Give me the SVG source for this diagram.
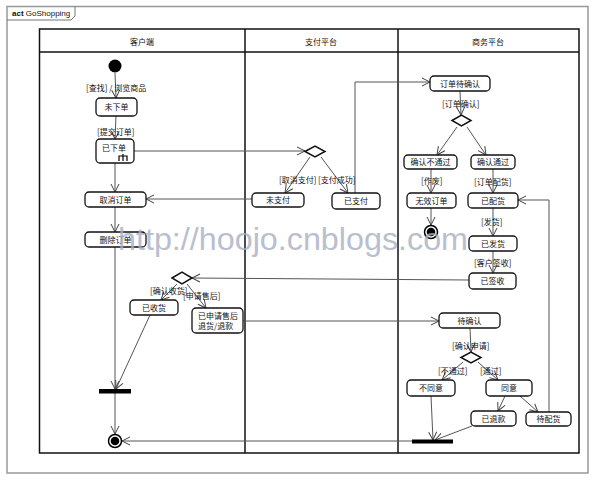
<svg xmlns="http://www.w3.org/2000/svg" width="595" height="480" viewBox="0 0 595 480">
<defs>
<marker id="arr" markerUnits="userSpaceOnUse" markerWidth="10" markerHeight="10" viewBox="0 0 10 10" refX="9" refY="5" orient="auto">
<path d="M1,1 L9,5 L1,9" fill="none" stroke="#444" stroke-width="1"/>
</marker>
<style>
text{font-family:"Noto Sans CJK SC","Liberation Sans",sans-serif;font-size:8px;fill:#111}
.c{text-anchor:middle}
.box{fill:#fff;stroke:#111;stroke-width:1.3}
.lane{fill:none;stroke:#111;stroke-width:1.5}
.e{fill:none;stroke:#555;stroke-width:1;marker-end:url(#arr)}
.dia{fill:#fff;stroke:#111;stroke-width:1.5}
.bar{fill:#000}
.wm{font-family:"Liberation Sans",sans-serif;font-size:32px;fill:#a8b0c4;opacity:0.8}
</style>
</defs>
<rect width="595" height="480" fill="#fff"/>
<!-- outer frame -->
<rect x="7" y="6.5" width="581" height="466.5" fill="none" stroke="#999" stroke-width="1.5"/>
<path d="M7,20 H71 L75,16 V6.5" fill="none" stroke="#777" stroke-width="1"/>
<text x="12" y="16" style="font-family:'Liberation Sans',sans-serif"><tspan font-weight="bold">act</tspan> GoShopping</text>
<!-- swimlanes -->
<g id="lanes">
<rect class="lane" x="39.5" y="29" width="539.5" height="424"/>
<line class="lane" x1="39.5" y1="52" x2="579" y2="52"/>
<line class="lane" x1="245" y1="29" x2="245" y2="453"/>
<line class="lane" x1="398" y1="29" x2="398" y2="453"/>
<text class="c" x="142" y="45">客户端</text>
<text class="c" x="321" y="45">支付平台</text>
<text class="c" x="488" y="45">商务平台</text>
</g>
<!-- connectors -->
<g id="connectors">
<line class="e" x1="115" y1="73" x2="116" y2="98"/>
<line class="e" x1="116" y1="116" x2="115" y2="139"/>
<line class="e" x1="134" y1="151" x2="305" y2="151"/>
<line class="e" x1="115" y1="163" x2="115" y2="192"/>
<line class="e" x1="115" y1="207" x2="115" y2="232"/>
<line class="e" x1="252" y1="199" x2="146" y2="199"/>
<line class="e" x1="310" y1="157" x2="285" y2="193"/>
<line class="e" x1="321" y1="157" x2="348" y2="193"/>
<polyline class="e" points="355,193 355,82 430,82"/>
<line class="e" x1="460" y1="91" x2="461" y2="115"/>
<line class="e" x1="457" y1="127" x2="437" y2="155"/>
<line class="e" x1="467" y1="127" x2="486" y2="155"/>
<line class="e" x1="431" y1="169" x2="431" y2="193"/>
<line class="e" x1="493" y1="169" x2="493" y2="193"/>
<line class="e" x1="431" y1="208" x2="431" y2="225"/>
<line class="e" x1="493" y1="208" x2="493" y2="236"/>
<line class="e" x1="493" y1="251" x2="493" y2="273"/>
<line class="e" x1="469" y1="280" x2="192" y2="278"/>
<line class="e" x1="177" y1="284" x2="161" y2="300"/>
<line class="e" x1="187" y1="284" x2="206" y2="308"/>
<line class="e" x1="115" y1="247" x2="115" y2="389"/>
<line class="e" x1="150" y1="315" x2="116" y2="389"/>
<line class="e" x1="115" y1="393" x2="115" y2="434"/>
<line class="e" x1="243" y1="321" x2="439" y2="321"/>
<line class="e" x1="470" y1="328" x2="471" y2="352"/>
<line class="e" x1="463" y1="362" x2="442" y2="380"/>
<line class="e" x1="478" y1="362" x2="498" y2="380"/>
<line class="e" x1="505" y1="396" x2="498" y2="411"/>
<line class="e" x1="520" y1="396" x2="538" y2="412"/>
<polyline class="e" points="549,412 549,200 518,200"/>
<line class="e" x1="431" y1="396" x2="433" y2="440"/>
<line class="e" x1="472" y1="426" x2="435" y2="440"/>
<line class="e" x1="412" y1="441" x2="122" y2="441"/>
</g>
<!-- guard labels -->
<g id="guards">
<text x="86" y="91">[查找] / 浏览商品</text>
<text x="97" y="135">[提交订单]</text>
<text x="279" y="183">[取消支付]</text>
<text x="318" y="183">[支付成功]</text>
<text x="442" y="107">[订单确认]</text>
<text x="421" y="184">[作废]</text>
<text x="474" y="185">[订单配货]</text>
<text x="481" y="225">[发货]</text>
<text x="474" y="266">[客户签收]</text>
<text x="150" y="294">[确认收货]</text>
<text x="183" y="299">[申请售后]</text>
<text x="452" y="349">[确认申请]</text>
<text x="438" y="374">[不通过]</text>
<text x="480" y="374">[通过]</text>
</g>
<!-- nodes -->
<g id="start"><circle cx="115" cy="66" r="6.5" fill="#000"/></g>
<g id="n_weixiadan"><rect class="box" x="96" y="98" width="41" height="18" rx="4"/><text class="c" x="116.5" y="110">未下单</text></g>
<g id="n_yixiadan"><rect class="box" x="96" y="139" width="38" height="24" rx="4" stroke-width="2"/><text class="c" x="114" y="151">已下单</text>
<path d="M119,161 V156 H127 V161 M123,154 V161" fill="none" stroke="#000" stroke-width="1.2"/></g>
<g id="n_quxiao"><rect class="box" x="85" y="192" width="61" height="15" rx="4"/><text class="c" x="115.5" y="202.5">取消订单</text></g>
<g id="n_shanchu"><rect class="box" x="85" y="232" width="61" height="15" rx="4"/><text class="c" x="115.5" y="242.5">删除订单</text></g>
<g id="d_pay"><polygon class="dia" points="305,151.5 315,146 325,151.5 315,157"/></g>
<g id="n_weizhifu"><rect class="box" x="252" y="193" width="52" height="14" rx="4"/><text class="c" x="278" y="203">未支付</text></g>
<g id="n_yizhifu"><rect class="box" x="332" y="193" width="48" height="16" rx="4"/><text class="c" x="356" y="204">已支付</text></g>
<g id="n_dingdandaiqueren"><rect class="box" x="430" y="76" width="60" height="15" rx="4"/><text class="c" x="460" y="86.5">订单待确认</text></g>
<g id="d_confirm"><polygon class="dia" points="452,120.5 461.5,115 471,120.5 461.5,126"/></g>
<g id="n_butongguo"><rect class="box" x="404" y="155" width="53" height="14" rx="4"/><text class="c" x="430.5" y="165">确认不通过</text></g>
<g id="n_tongguo"><rect class="box" x="471" y="155" width="44" height="14" rx="4"/><text class="c" x="493" y="165">确认通过</text></g>
<g id="n_wuxiao"><rect class="box" x="407" y="193" width="49" height="15" rx="4"/><text class="c" x="431.5" y="203.5">无效订单</text></g>
<g id="end1"><circle cx="431" cy="232" r="6.5" fill="#fff" stroke="#000" stroke-width="1.5"/><circle cx="431" cy="232" r="4.3" fill="#000"/></g>
<g id="n_yipeihuo"><rect class="box" x="468" y="193" width="50" height="15" rx="4"/><text class="c" x="493" y="203.5">已配货</text></g>
<g id="n_yifahuo"><rect class="box" x="469" y="236" width="48" height="15" rx="4"/><text class="c" x="493" y="246.5">已发货</text></g>
<g id="n_yiqianshou"><rect class="box" x="469" y="273" width="47" height="16" rx="4"/><text class="c" x="492.5" y="284">已签收</text></g>
<g id="d_receive"><polygon class="dia" points="172,278 182,272 192,278 182,284"/></g>
<g id="n_yishouhuo"><rect class="box" x="130" y="300" width="48" height="15" rx="4"/><text class="c" x="154" y="310.5">已收货</text></g>
<g id="n_shouhou"><rect class="box" x="192" y="308" width="51" height="25" rx="4"/><text x="198" y="318.5">已申请售后</text><text x="198" y="328.5">退货/退款</text></g>
<g id="fork1"><rect class="bar" x="99" y="389" width="32" height="4.5"/></g>
<g id="end2"><circle cx="115" cy="441" r="6.5" fill="#fff" stroke="#000" stroke-width="1.5"/><circle cx="115" cy="441" r="4.3" fill="#000"/></g>
<g id="n_daiqueren"><rect class="box" x="439" y="313" width="61" height="15" rx="4"/><text class="c" x="469.5" y="323.5">待确认</text></g>
<g id="d_apply"><polygon class="dia" points="461,357.5 471,352 481,357.5 471,363"/></g>
<g id="n_butongyi"><rect class="box" x="407" y="380" width="48" height="16" rx="4"/><text class="c" x="431" y="391">不同意</text></g>
<g id="n_tongyi"><rect class="box" x="486" y="380" width="46" height="16" rx="4"/><text class="c" x="509" y="391">同意</text></g>
<g id="n_yituikuan"><rect class="box" x="471" y="411" width="45" height="15" rx="4"/><text class="c" x="493.5" y="421.5">已退款</text></g>
<g id="n_daipeihuo"><rect class="box" x="526" y="412" width="45" height="14" rx="4"/><text class="c" x="548.5" y="422">待配货</text></g>
<g id="join2"><rect class="bar" x="412" y="439.5" width="41" height="4"/></g>
<text class="wm" x="118" y="250" textLength="350" lengthAdjust="spacingAndGlyphs">http://hoojo.cnblogs.com</text>
</svg>
